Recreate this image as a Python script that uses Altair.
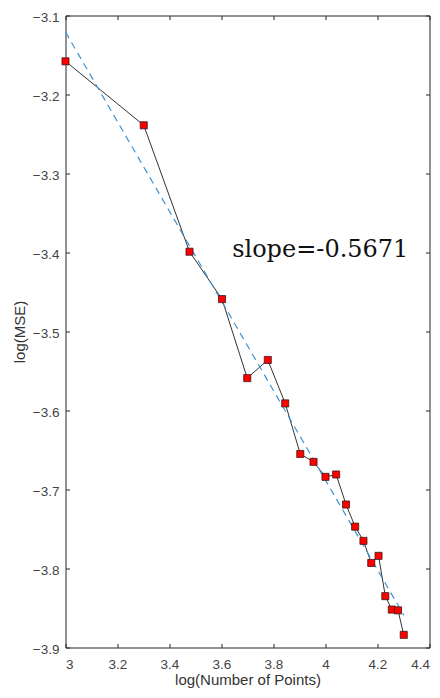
import altair as alt
import pandas as pd

log_n = [3.0, 3.301, 3.477, 3.602, 3.699, 3.778, 3.845, 3.903, 3.954, 4.0,
         4.041, 4.079, 4.114, 4.146, 4.176, 4.204, 4.230, 4.255, 4.279, 4.301]
log_mse = [-3.158, -3.239, -3.399, -3.459, -3.559, -3.536, -3.591, -3.655, -3.665, -3.684,
           -3.681, -3.719, -3.747, -3.765, -3.793, -3.784, -3.835, -3.852, -3.853, -3.884]
fit_x = [3.0, 4.301]
fit_y = [-3.121, -3.859]
label_text = ["slope=-0.5671"]
label_x = [3.641]
label_y = [-3.406]
x_ticks = [3.0, 3.2, 3.4, 3.6, 3.8, 4.0, 4.2, 4.4]
y_ticks = [-3.9, -3.8, -3.7, -3.6, -3.5, -3.4, -3.3, -3.2, -3.1]

W, H = 364, 632
TS = 4

df = pd.DataFrame({"x": log_n, "y": log_mse})
fit = pd.DataFrame({"x": fit_x, "y": fit_y})
lab = pd.DataFrame({"t": label_text, "x": label_x, "y": label_y})

xs = alt.Scale(domain=[3.0, 4.4], nice=False, zero=False)
ys = alt.Scale(domain=[-3.9, -3.1], nice=False, zero=False)

COMMON = dict(labelFont="Liberation Sans", labelFontSize=13.5, labelColor="#444444",
              titleFont="Liberation Sans", titleFontSize=15, titleColor="#333333",
              titleFontWeight="normal", domain=False, grid=False,
              ticks=True, tickSize=TS, tickColor="#262626", tickWidth=1)

def tick_axis(orient, offset, values):
    return alt.Axis(orient=orient, offset=offset, values=values, labels=False,
                    ticks=True, tickSize=TS, tickColor="#262626", tickWidth=1,
                    domain=False, grid=False)

line = alt.Chart(df).mark_line(color="#333333", strokeWidth=1).encode(
    x=alt.X("x:Q", scale=xs, title="log(Number of Points)",
            axis=alt.Axis(orient="bottom", offset=-TS, values=x_ticks, format="~g",
                          labelPadding=9.5, titleY=35.5, titleX=W / 2, titleBaseline="middle",
                          **COMMON)),
    y=alt.Y("y:Q", scale=ys, title="log(MSE)",
            axis=alt.Axis(orient="left", offset=-TS, values=y_ticks, format=".1f",
                          labelPadding=6.5, labelOffset=2, titleX=-50, titleY=H / 2,
                          titleBaseline="middle", **COMMON)),
)

fitl = alt.Chart(fit).mark_line(color="#3f93d3", strokeWidth=1.2, strokeDash=[7, 5]).encode(
    x=alt.X("x:Q", scale=xs, axis=None),
    y=alt.Y("y:Q", scale=ys, axis=None),
)

pts = alt.Chart(df).mark_square(size=50, fill="#ff0000", stroke="#3a1a1a", strokeWidth=0.8, opacity=1).encode(
    x=alt.X("x:Q", scale=xs, title="", axis=tick_axis("bottom", -H, x_ticks)),
    y=alt.Y("y:Q", scale=ys, title="", axis=tick_axis("left", -W, y_ticks)),
)

txt = alt.Chart(lab).mark_text(font="DejaVu Serif", fontSize=24, align="left", baseline="alphabetic",
                               color="#111111").encode(
    x=alt.X("x:Q", scale=xs, axis=None),
    y=alt.Y("y:Q", scale=ys, axis=None),
    text="t:N",
)

chart = alt.layer(line, fitl, pts, txt).resolve_axis(x="independent", y="independent").properties(
    width=W, height=H,
    background="white",
    autosize=alt.AutoSizeParams(type="none"),
    padding={"left": 57.5, "top": 7.5, "right": 1.5, "bottom": 41.5},
).configure_view(stroke="#262626", strokeWidth=1)

chart.save("out.html", embed_options={"renderer": "svg", "actions": False})
